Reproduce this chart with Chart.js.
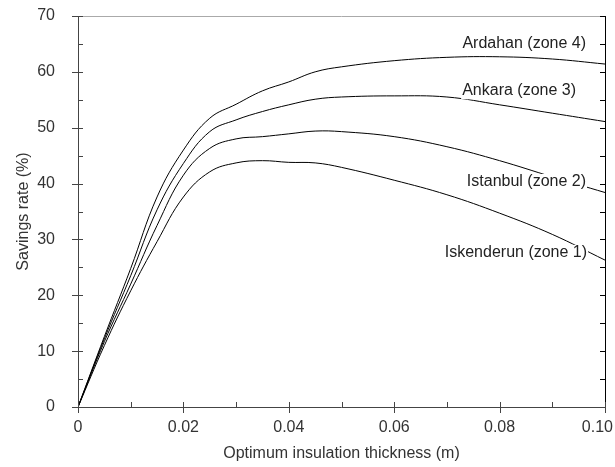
<!DOCTYPE html>
<html>
<head>
<meta charset="utf-8">
<script src="https://cdn.jsdelivr.net/npm/chart.js@4.4.1/dist/chart.umd.min.js"></script>
<style>
  html, body { margin: 0; padding: 0; background: #fff; }
  #wrap { width: 615px; height: 467px; }
</style>
</head>
<body>
<div id="wrap"><canvas id="myChart"></canvas></div>
<script>
// datos
const espesor = [0, 0.005, 0.01, 0.015, 0.02, 0.025, 0.03, 0.035, 0.04, 0.045, 0.05, 0.06, 0.07, 0.08, 0.09, 0.1];
const ardahan = [0, 12.6, 24.8, 37.6, 46.0, 51.7, 54.2, 56.6, 58.2, 60, 60.9, 62, 62.6, 62.7, 62.3, 61.4];
const ankara = [0, 12.2, 23.5, 35.3, 43.6, 49.3, 51.4, 52.9, 54.1, 55.1, 55.5, 55.7, 55.5, 54.1, 52.6, 51.1];
const istanbul = [0, 11.7, 22, 32.5, 41.5, 46.3, 48.0, 48.4, 48.9, 49.4, 49.3, 48.4, 46.6, 44.1, 41.2, 38.4];
const iskenderun = [0, 11, 20.8, 29.6, 37.6, 42.1, 43.7, 44.1, 43.8, 43.7, 42.9, 40.6, 38.0, 34.7, 30.9, 26.3];
const nombres = ["Ardahan (zone 4)", "Ankara (zone 3)", "Istanbul (zone 2)", "Iskenderun (zone 1)"];
const xTicks = [0, 0.02, 0.04, 0.06, 0.08, 0.1];
const yTicks = [0, 10, 20, 30, 40, 50, 60, 70];

const ctx = document.getElementById("myChart");
const fuente = "'Liberation Sans', Arial, sans-serif";

const serie = (vals) => espesor.map((x, i) => ({ x: x, y: vals[i] }));

const datasets = [ardahan, ankara, istanbul, iskenderun].map((vals, i) => ({
  label: nombres[i],
  data: serie(vals),
  borderColor: "#000",
  borderWidth: 1,
  pointRadius: 0,
  fill: false,
  tension: 0.4,
}));

// ejes dibujados a mano (ticks mayores y menores)
const ejes = {
  id: "ejes",
  afterDatasetsDraw(chart) {
    const c = chart.ctx;
    const a = chart.chartArea;
    const xs = chart.scales.x;
    const ys = chart.scales.y;
    c.save();
    c.lineWidth = 1;
    // borde superior gris
    c.strokeStyle = "#aaa";
    c.beginPath();
    c.moveTo(a.left, a.top + 0.5);
    c.lineTo(a.right, a.top + 0.5);
    c.stroke();
    // borde derecho negro
    c.strokeStyle = "#000";
    c.beginPath();
    c.moveTo(a.right + 0.5, a.top);
    c.lineTo(a.right + 0.5, a.bottom);
    c.stroke();
    for (let v = 0; v <= 70; v += 5) {
      const py = Math.round(ys.getPixelForValue(v)) + 0.5;
      c.beginPath();
      c.moveTo(a.right, py);
      c.lineTo(a.right - 5, py);
      c.stroke();
    }
    // eje izquierdo e inferior
    c.strokeStyle = "#444";
    c.beginPath();
    c.moveTo(a.left + 0.5, a.top);
    c.lineTo(a.left + 0.5, a.bottom);
    c.moveTo(a.left, a.bottom + 0.5);
    c.lineTo(a.right, a.bottom + 0.5);
    c.stroke();
    for (let v = 0; v <= 70; v += 5) {
      const py = Math.round(ys.getPixelForValue(v)) + 0.5;
      const mayor = v % 10 === 0;
      c.beginPath();
      c.moveTo(a.left - (mayor ? 6 : 0), py);
      c.lineTo(a.left + 5, py);
      c.stroke();
    }
    for (let i = 0; i <= 10; i++) {
      const px = Math.round(xs.getPixelForValue(i * 0.01)) + 0.5;
      const mayor = i % 2 === 0;
      c.beginPath();
      c.moveTo(px, a.bottom + (mayor ? 6 : 0));
      c.lineTo(px, a.bottom - 5);
      c.stroke();
    }
    // etiquetas del eje x (la ultima se recorre para que quepa)
    c.font = "16px " + fuente;
    c.fillStyle = "#333";
    c.textAlign = "center";
    c.textBaseline = "middle";
    xTicks.forEach((v) => {
      const t = v === 0 ? "0" : v.toFixed(2);
      const w = c.measureText(t).width;
      let px = xs.getPixelForValue(v);
      if (px + w / 2 > chart.width - 2) px = chart.width - 2 - w / 2;
      c.fillText(t, px, a.bottom + 21);
    });
    c.restore();
  },
};

// etiquetas de cada curva con fondo blanco
const etiquetas = {
  id: "etiquetas",
  afterDatasetsDraw(chart) {
    const c = chart.ctx;
    const xs = chart.scales.x;
    const ys = chart.scales.y;
    const pos = [[0.0964, 65.0], [0.0945, 56.7], [0.0964, 40.3], [0.0966, 27.6]];
    c.save();
    c.font = "16px " + fuente;
    c.textAlign = "right";
    c.textBaseline = "middle";
    nombres.forEach((t, i) => {
      const px = xs.getPixelForValue(pos[i][0]);
      const py = ys.getPixelForValue(pos[i][1]);
      const w = c.measureText(t).width;
      c.fillStyle = "#fff";
      c.fillRect(px - w - 1, py - 8, w + 2, 17);
      c.fillStyle = "#222";
      c.fillText(t, px, py);
    });
    c.restore();
  },
};

new Chart(ctx, {
  type: "line",
  data: { datasets: datasets },
  options: {
    responsive: true,
    maintainAspectRatio: false,
    animation: false,
    layout: { padding: { left: 0, right: 10, top: 16, bottom: 0 } },
    plugins: { legend: { display: false }, tooltip: { enabled: false } },
    scales: {
      x: {
        type: "linear",
        min: 0,
        max: 0.1,
        border: { display: false },
        grid: { display: false },
        afterBuildTicks: (s) => { s.ticks = xTicks.map((v) => ({ value: v })); },
        afterFit: (s) => { s.height = 60; s.paddingLeft = 0; s.paddingRight = 0; },
        ticks: { display: false },
        title: {
          display: true,
          text: "Optimum insulation thickness (m)",
          color: "#333",
          font: { family: fuente, size: 16 },
          padding: { top: 0, bottom: 4 },
        },
      },
      y: {
        min: 0,
        max: 70,
        border: { display: false },
        grid: { display: false },
        afterBuildTicks: (s) => { s.ticks = yTicks.map((v) => ({ value: v })); },
        afterFit: (s) => { s.width = 78; s.paddingTop = 0; s.paddingBottom = 0; },
        ticks: {
          color: "#333",
          font: { family: fuente, size: 16 },
          padding: 15,
        },
        title: {
          display: true,
          text: "Savings rate (%)",
          color: "#333",
          font: { family: fuente, size: 16 },
          padding: { top: 14, bottom: 0 },
        },
      },
    },
  },
  plugins: [ejes, etiquetas],
});
</script>
</body>
</html>
